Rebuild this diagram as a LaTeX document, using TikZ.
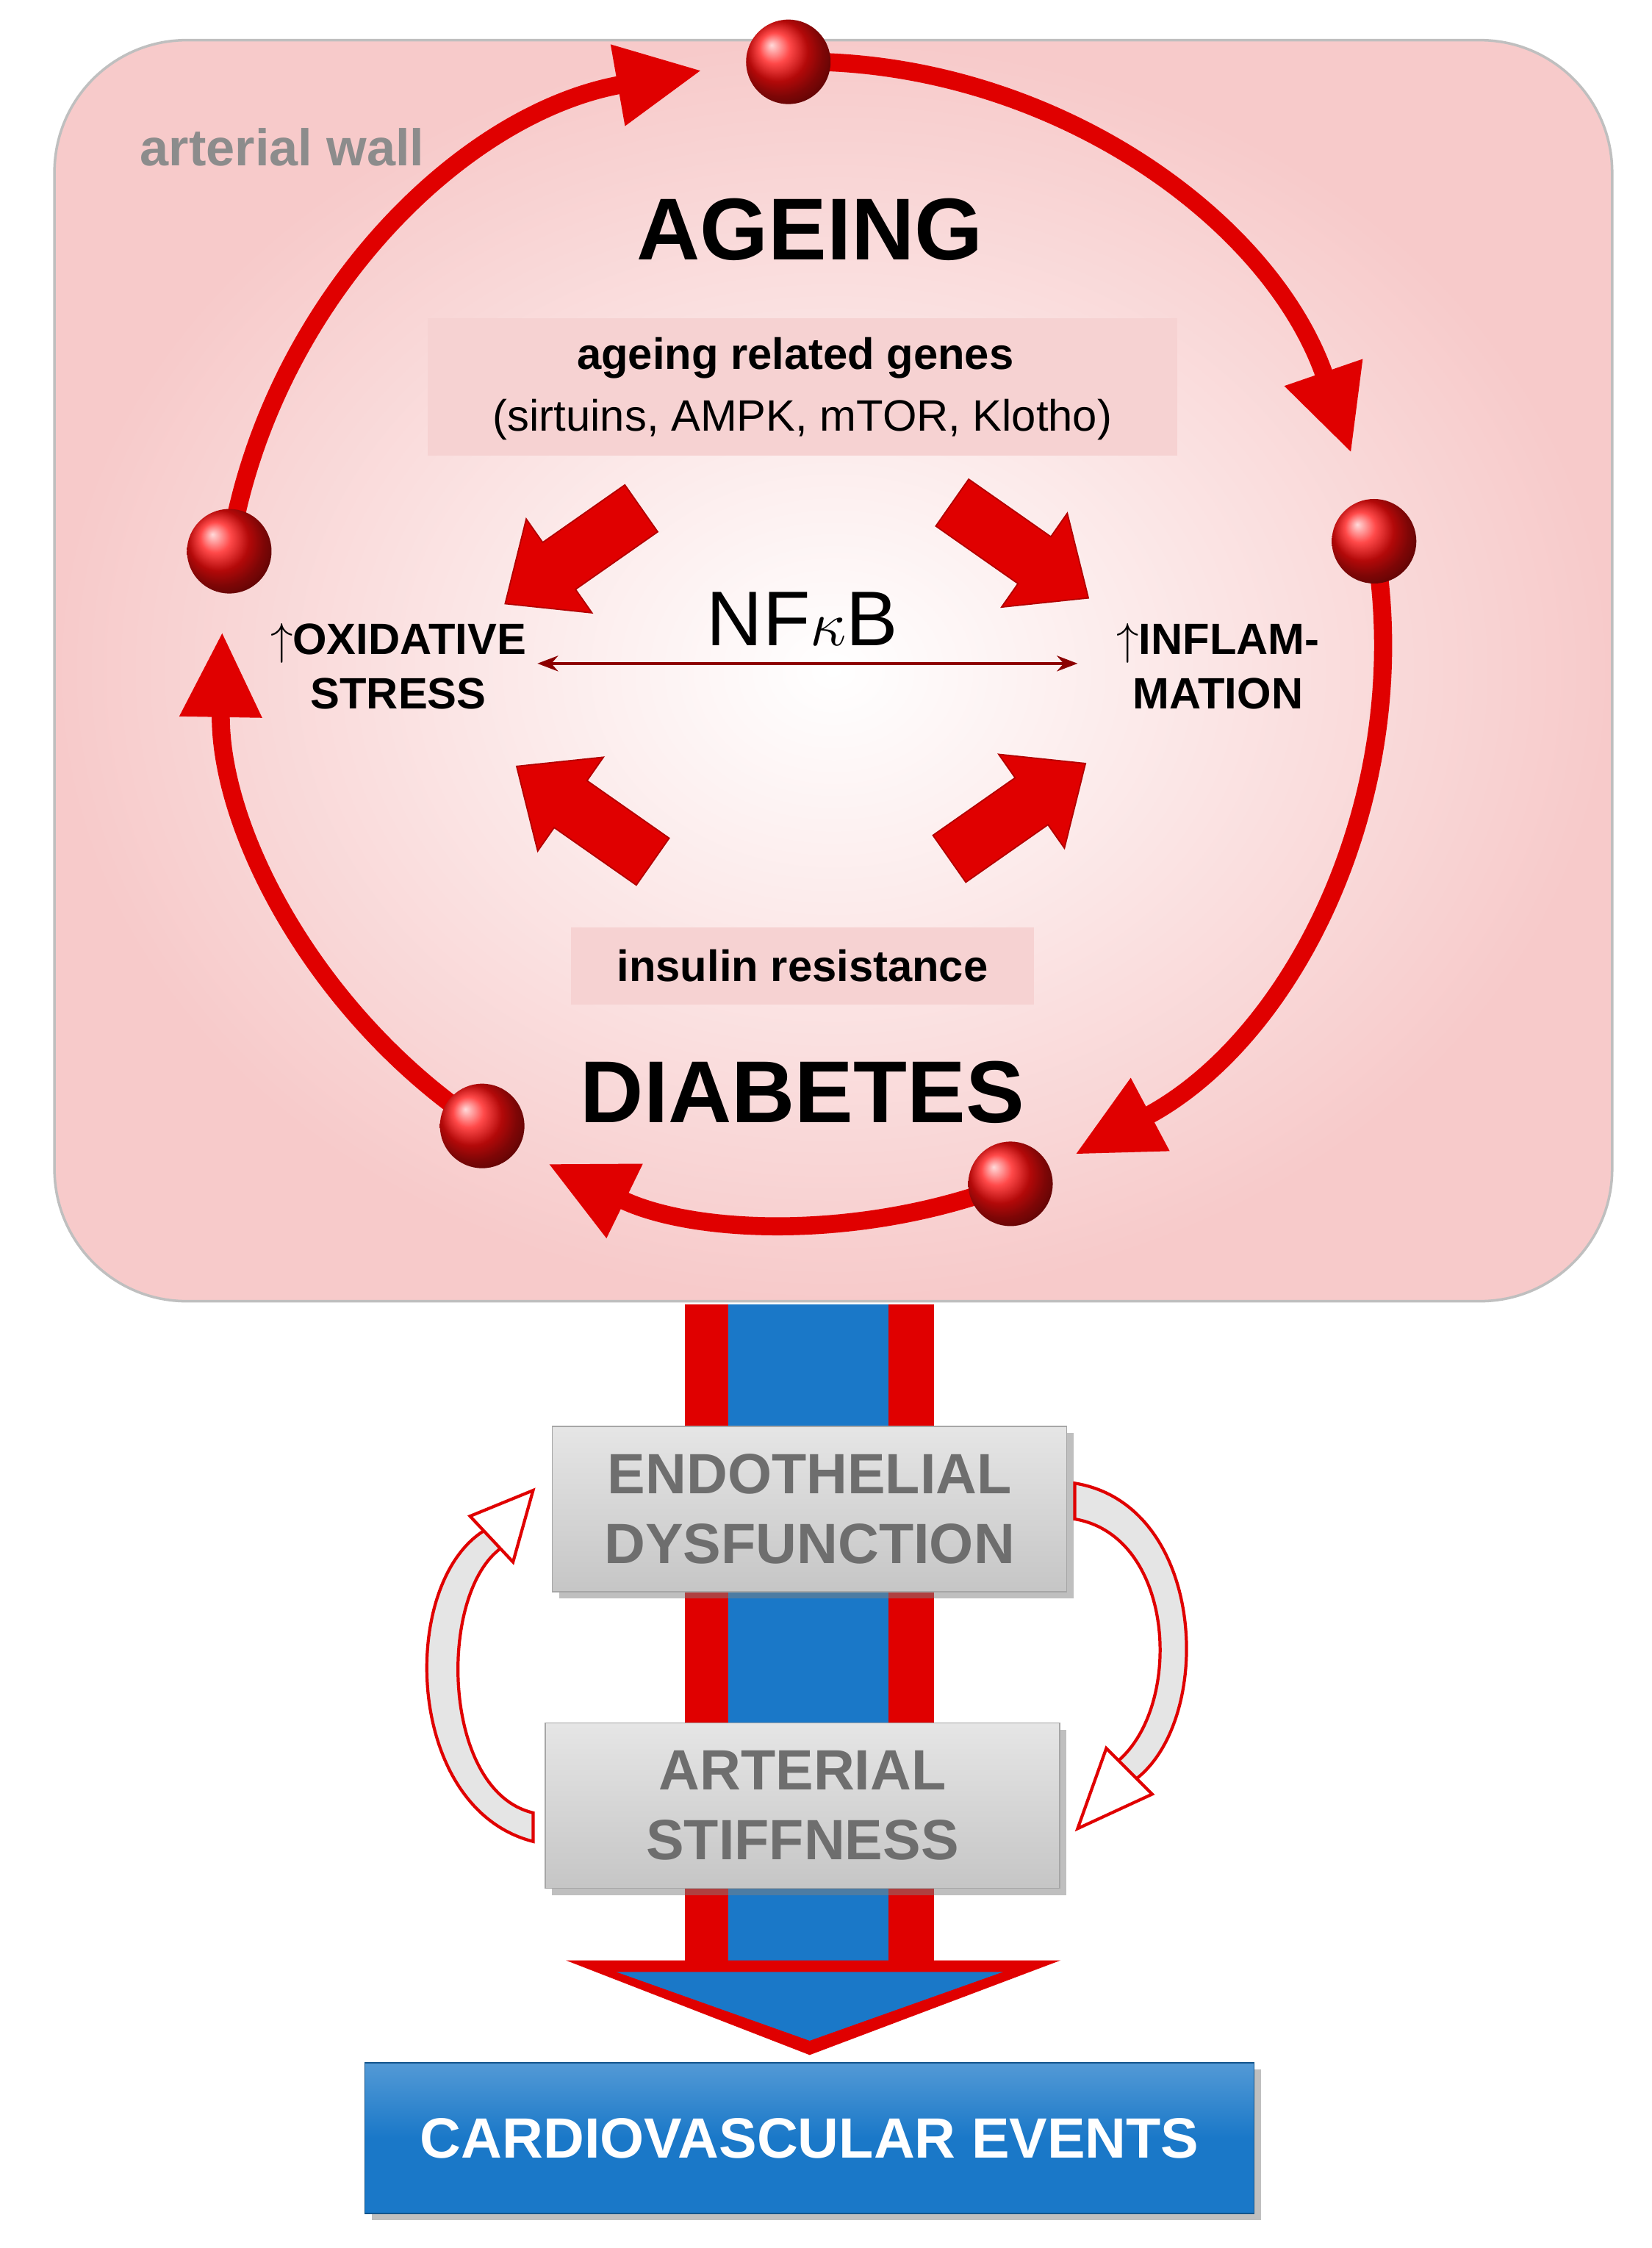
\documentclass[tikz,border=0pt]{standalone}
\usepackage{fontspec}
\setmainfont{Liberation Sans}
\usetikzlibrary{arrows.meta,shadows,calc}
\definecolor{cred}{HTML}{E00000}
\definecolor{cpink}{HTML}{F7CACA}
\definecolor{lbox}{HTML}{F6D2D2}
\definecolor{cblue}{HTML}{1A78C8}
\definecolor{gtext}{HTML}{6E6E6E}
\begin{document}
\begin{tikzpicture}[x=0.0195cm,y=-0.0195cm,
  cyc/.style={draw=cred,line width=7pt,-{Triangle[length=33pt,width=30pt]}},
  ball/.style={circle,minimum size=1.15cm,inner sep=0pt,ball color=red!95!white,shading=ball},
  lbl/.style={font=\bfseries\fontsize{17}{21}\selectfont,align=center},
  gbox/.style={draw=gray!70,fill=gray!35,top color=gray!20,bottom color=gray!45,font=\bfseries\fontsize{22}{27}\selectfont,text=gtext,align=center,minimum width=7cm,minimum height=2.25cm,drop shadow},
]
\useasboundingbox (0,0) rectangle (1152.8,1568.7);
% arterial wall box
\shade[inner color=white,outer color=cpink,draw=gray!50,line width=1pt,rounded corners=1.8cm]
  (38,28) rectangle (1125,908);
\node[text=gray!90,font=\bfseries\fontsize{20}{24}\selectfont] (aw) at (197,103) {arterial wall};
\node[font=\bfseries\fontsize{34}{40}\selectfont] (age) at (565,160) {AGEING};
\node[fill=lbox,minimum width=10.2cm,minimum height=1.87cm,inner sep=0pt] (genesbox) at (560,270) {};
\node[font=\bfseries\fontsize{17}{21}\selectfont] (g1) at (555,250) {ageing related genes};
\node[font=\fontsize{17}{21}\selectfont] (g2) at (560,293) {(sirtuins, AMPK, mTOR, Klotho)};
\node[font=\fontsize{30}{36}\selectfont] (nf) at (560,432) {NF$\kappa$B};
\node[lbl] (ox) at (278,465) {$\uparrow$OXIDATIVE\\STRESS};
\node[lbl] (inf) at (850,465) {$\uparrow$INFLAM-\\MATION};
\coordinate (da) at (375,463);
\coordinate (db) at (752,463);
\draw[draw=red!55!black,line width=1.3pt,{Stealth[length=8pt]}-{Stealth[length=8pt]}] (da) -- (db);
\node[fill=lbox,minimum width=6.3cm,minimum height=1.05cm,font=\bfseries\fontsize{17}{21}\selectfont] (ins) at (560,674) {insulin resistance};
\node[font=\bfseries\fontsize{34}{40}\selectfont] (dia) at (560,762) {DIABETES};
% fat arrows
\foreach \cx/\cy/\a in {400/388/215, 712/384/-35, 408/568/145, 710/566/35}{
  \fill[cred,draw=red!70!black,line width=0.5pt,shift={(\cx,\cy)},rotate=\a]
    (-58,-20) -- (12,-20) -- (12,-40) -- (58,0) -- (12,40) -- (12,20) -- (-58,20) -- cycle;
}
% cycle
\coordinate (c) at (560,448);
\draw[cyc] ($(c)+(-91.4:405)$) arc[start angle=-91.4,end angle=-19,radius=405];
\draw[cyc] ($(c)+(-10:405)$) arc[start angle=-10,end angle=62,radius=405];
\draw[cyc] ($(c)+(69:405)$) arc[start angle=69,end angle=116,radius=405];
\draw[cyc] ($(c)+(123.5:405)$) arc[start angle=123.5,end angle=181,radius=405];
\draw[cyc] ($(c)+(189:405)$) arc[start angle=189,end angle=260,radius=405];
\node[ball] (b1) at ($(c)+(-91.4:405)$) {};
\node[ball] (b2) at ($(c)+(-10:405)$) {};
\node[ball] (b3) at ($(c)+(69:405)$) {};
\node[ball] (b4) at ($(c)+(123.5:405)$) {};
\node[ball] (b5) at ($(c)+(189:405)$) {};
% big vertical arrow
\fill[cred] (478,910) rectangle (652,1372);
\fill[cblue] (508,910) rectangle (620,1372);
\fill[cred] (395,1368) -- (740,1368) -- (565,1434) -- cycle;
\fill[cblue] (430,1376) -- (700,1376) -- (565,1424) -- cycle;
% gray boxes
\node[gbox] (endo) at (565,1053) {ENDOTHELIAL\\DYSFUNCTION};
\node[gbox] (stiff) at (560,1260) {ARTERIAL\\STIFFNESS};
% curved hollow arrows
\filldraw[fill=gray!20,draw=cred,line width=1.2pt]
  (372,1285) .. controls (282,1262) and (278,1105) .. (338,1068)
  -- (350,1080) .. controls (305,1112) and (308,1250) .. (372,1265) -- cycle;
\filldraw[fill=white,draw=cred,line width=1.2pt] (372,1040) -- (328,1058) -- (358,1090) -- cycle;
\filldraw[fill=gray!20,draw=cred,line width=1.2pt]
  (750,1035) .. controls (842,1050) and (848,1200) .. (792,1242)
  -- (780,1229) .. controls (826,1190) and (820,1072) .. (750,1060) -- cycle;
\filldraw[fill=white,draw=cred,line width=1.2pt] (752,1276) -- (772,1220) -- (804,1252) -- cycle;
% cardiovascular events
\node[draw=cblue!70!black,top color=cblue!75,bottom color=cblue,middle color=cblue,minimum width=12.1cm,minimum height=2.05cm,text=white,font=\bfseries\fontsize{22}{27}\selectfont,drop shadow] (cve) at (565,1492) {CARDIOVASCULAR EVENTS};
\end{tikzpicture}
\end{document}
